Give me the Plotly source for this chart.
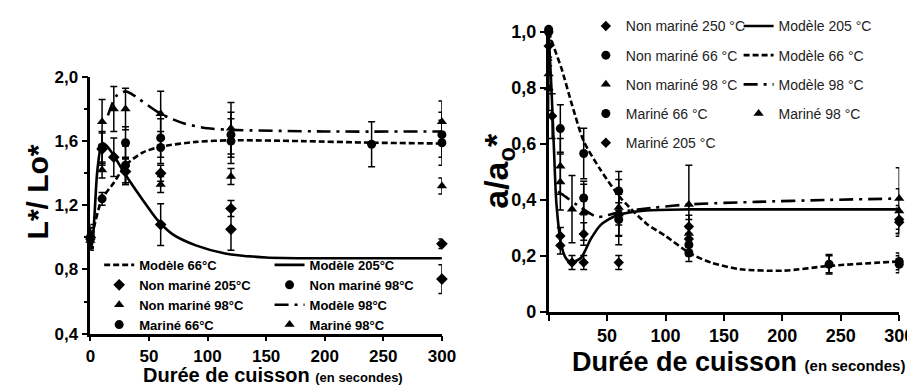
import plotly.graph_objects as go

# ---------------- left panel : L*/Lo* ----------------
x_ticks_l = [0, 50, 100, 150, 200, 250, 300]
x_text_l = ["0", "50", "100", "150", "200", "250", "300"]
y_ticks_l = [0.4, 0.8, 1.2, 1.6, 2.0]
y_text_l = ["0,4", "0,8", "1,2", "1,6", "2,0"]
y_minor_l = [0.6, 1.0, 1.4, 1.8]

mod66_l_t = [0, 3, 10, 20, 30, 45, 60, 90, 120, 180, 240, 300]
mod66_l_v = [0.95, 1.06, 1.24, 1.34, 1.45, 1.53, 1.565, 1.595, 1.605, 1.60, 1.59, 1.585]
mod205_l_t = [0, 2, 6, 10, 14, 20, 30, 45, 57, 70, 90, 115, 150, 200, 300]
mod205_l_v = [0.92, 0.98, 1.42, 1.59, 1.57, 1.51, 1.39, 1.23, 1.11, 1.02, 0.95, 0.90, 0.875, 0.87, 0.87]
mod98_l_t = [15, 22, 30, 36, 60, 80, 100, 120, 200, 300]
mod98_l_v = [1.76, 1.88, 1.91, 1.89, 1.77, 1.71, 1.68, 1.67, 1.66, 1.66]

nm205_l_t = [0, 10, 20, 30, 60, 120, 300]
nm205_l_v = [1.0, 1.55, 1.50, 1.41, 1.08, 1.05, 0.74]
nm205_l_e = [0.06, 0.10, 0.12, 0.08, 0.13, 0.13, 0.09]
m205_l_t = [60, 120, 300]
m205_l_v = [1.40, 1.18, 0.96]
m205_l_e = [0.05, 0.05, 0.03]
nm98c_l_t = [0, 10, 30, 60, 120, 300]
nm98c_l_v = [1.0, 1.56, 1.59, 1.62, 1.64, 1.64]
nm98c_l_e = [0.06, 0.10, 0.10, 0.12, 0.14, 0.14]
nm98t_l_t = [0, 10, 20, 30, 60, 120, 300]
nm98t_l_v = [1.0, 1.72, 1.80, 1.80, 1.77, 1.68, 1.72]
nm98t_l_e = [0.08, 0.14, 0.14, 0.13, 0.14, 0.16, 0.13]
m66_l_t = [0, 10, 30, 60, 120, 240, 300]
m66_l_v = [0.99, 1.24, 1.45, 1.56, 1.60, 1.58, 1.59]
m66_l_e = [0.05, 0.04, 0.12, 0.10, 0.14, 0.14, 0.14]
m98_l_t = [0, 10, 30, 60, 120, 300]
m98_l_v = [0.98, 1.42, 1.42, 1.33, 1.38, 1.32]
m98_l_e = [0.05, 0.05, 0.08, 0.05, 0.05, 0.05]

# ---------------- right panel : a/ao* ----------------
x_ticks_r = [0, 50, 100, 150, 200, 250, 300]
x_text_r = ["", "50", "100", "150", "200", "250", "300"]
y_ticks_r = [0, 0.2, 0.4, 0.6, 0.8, 1.0]
y_text_r = ["0", "0,2", "0,4", "0,6", "0,8", "1,0"]

mod205_r_t = [0, 2.5, 4.7, 6.7, 10.9, 15, 19.3, 27.7, 36, 44.4, 58.4, 83.5, 120, 200, 300]
mod205_r_v = [1.0, 0.79, 0.565, 0.384, 0.237, 0.19, 0.176, 0.193, 0.26, 0.31, 0.345, 0.362, 0.366, 0.366, 0.366]
mod66_r_t = [0, 5, 11, 20, 30, 44, 61, 83.5, 100, 121, 139, 164, 201, 240, 300]
mod66_r_v = [1.0, 0.94, 0.87, 0.74, 0.61, 0.51, 0.41, 0.316, 0.271, 0.209, 0.176, 0.152, 0.147, 0.164, 0.18]
mod98_r_t = [8, 15, 25, 41.6, 50, 61, 90, 120, 178, 240, 300]
mod98_r_v = [0.43, 0.41, 0.38, 0.339, 0.345, 0.357, 0.372, 0.384, 0.393, 0.40, 0.405]

nm250_r_t = [0, 3, 10, 30, 60, 120, 300]
nm250_r_v = [1.0, 0.70, 0.237, 0.176, 0.176, 0.26, 0.32]
nm250_r_e = [0.05, 0.08, 0.03, 0.025, 0.025, 0.04, 0.05]
nm66_r_t = [0, 10, 30, 60, 120, 240, 300]
nm66_r_v = [1.01, 0.655, 0.566, 0.432, 0.21, 0.17, 0.18]
nm66_r_e = [0.04, 0.085, 0.09, 0.07, 0.03, 0.03, 0.03]
nm98_r_t = [0, 10, 20, 30, 60, 120, 300]
nm98_r_v = [0.85, 0.52, 0.367, 0.356, 0.373, 0.384, 0.405]
nm98_r_e = [0.06, 0.10, 0.12, 0.10, 0.10, 0.14, 0.11]
m66_r_t = [0, 30, 60, 120, 300]
m66_r_v = [1.0, 0.407, 0.33, 0.24, 0.17]
m66_r_e = [0.04, 0.06, 0.09, 0.04, 0.03]
m98_r_t = [0, 10, 60, 120, 240, 300]
m98_r_v = [0.80, 0.464, 0.35, 0.28, 0.17, 0.36]
m98_r_e = [0.08, 0.10, 0.08, 0.05, 0.035, 0.08]
m205_r_t = [0, 10, 20, 30, 60, 120, 300]
m205_r_v = [0.95, 0.271, 0.176, 0.278, 0.35, 0.305, 0.33]
m205_r_e = [0.05, 0.03, 0.025, 0.04, 0.04, 0.04, 0.05]

fig = go.Figure()

BOLD = "Liberation Sans"


def model(name, t, v, dash, xa, ya, leg, width=2.6):
    fig.add_trace(go.Scatter(
        x=t, y=v, name=name, mode="lines",
        line=dict(color="black", width=width, dash=dash, shape="spline", smoothing=0.7),
        xaxis=xa, yaxis=ya, legend=leg, legendgroup=leg + name,
        hoverinfo="skip"))


def data(name, t, v, e, symbol, xa, ya, leg, size=9, show=True):
    fig.add_trace(go.Scatter(
        x=t, y=v, name=name, mode="markers",
        marker=dict(symbol=symbol, color="black", size=size),
        error_y=dict(type="data", array=e, color="black", thickness=1.5, width=3.5),
        xaxis=xa, yaxis=ya, legend=leg, legendgroup=leg + name,
        showlegend=show, cliponaxis=False))


# left legend: column 1 -> legend, column 2 -> legend2
model("Modèle 66°C", mod66_l_t, mod66_l_v, "6px,3px", "x", "y", "legend")
model("Modèle 205°C", mod205_l_t, mod205_l_v, "solid", "x", "y", "legend2")
data("Non mariné 205°C", nm205_l_t, nm205_l_v, nm205_l_e, "diamond", "x", "y", "legend")
data("Non mariné 98°C", nm98c_l_t, nm98c_l_v, nm98c_l_e, "circle", "x", "y", "legend2")
data("Non mariné 98°C", nm98t_l_t, nm98t_l_v, nm98t_l_e, "triangle-up", "x", "y", "legend")
model("Modèle 98°C", mod98_l_t, mod98_l_v, "14px,6px,3px,6px", "x", "y", "legend2")
data("Mariné 66°C", m66_l_t, m66_l_v, m66_l_e, "circle", "x", "y", "legend")
data("Mariné 98°C", m98_l_t, m98_l_v, m98_l_e, "triangle-up", "x", "y", "legend2")
data("Mariné 205°C", m205_l_t, m205_l_v, m205_l_e, "diamond", "x", "y", "legend", show=False)

# right legend: column 1 -> legend3, column 2 -> legend4
data("Non mariné 250 °C", nm250_r_t, nm250_r_v, nm250_r_e, "diamond", "x2", "y2", "legend3", size=8)
model("Modèle 205 °C", mod205_r_t, mod205_r_v, "solid", "x2", "y2", "legend4")
data("Non mariné 66 °C", nm66_r_t, nm66_r_v, nm66_r_e, "circle", "x2", "y2", "legend3", size=9)
model("Modèle 66 °C", mod66_r_t, mod66_r_v, "6px,3px", "x2", "y2", "legend4")
data("Non mariné 98 °C", nm98_r_t, nm98_r_v, nm98_r_e, "triangle-up", "x2", "y2", "legend3", size=9)
model("Modèle 98 °C", mod98_r_t, mod98_r_v, "14px,6px,3px,6px", "x2", "y2", "legend4")
data("Mariné 66 °C", m66_r_t, m66_r_v, m66_r_e, "circle", "x2", "y2", "legend3", size=9)
data("Mariné 98 °C", m98_r_t, m98_r_v, m98_r_e, "triangle-up", "x2", "y2", "legend4", size=9)
data("Mariné 205 °C", m205_r_t, m205_r_v, m205_r_e, "diamond", "x2", "y2", "legend3", size=8)

W, H = 915, 387

axis_common = dict(showline=True, linecolor="black", linewidth=2.5, ticks="outside",
                   tickcolor="black", tickwidth=2, ticklen=6, showgrid=False,
                   zeroline=False, tickmode="array")

leg_l = dict(bgcolor="rgba(0,0,0,0)", font=dict(family=BOLD, size=13, color="black", weight="bold"),
             traceorder="grouped", tracegroupgap=0, xanchor="left", yanchor="top")
leg_r = dict(bgcolor="rgba(0,0,0,0)", font=dict(family=BOLD, size=14, color="#222"),
             traceorder="grouped", tracegroupgap=8, xanchor="left", yanchor="top")

fig.update_layout(
    width=W, height=H,
    margin=dict(l=0, r=0, t=0, b=0),
    paper_bgcolor="white", plot_bgcolor="white",
    font=dict(family=BOLD, color="black"),
    xaxis=dict(axis_common, domain=[79 / W, 438 / W], range=[0, 300], ticklen=5,
               tickvals=x_ticks_l, ticktext=x_text_l,
               tickfont=dict(size=17, weight="bold")),
    yaxis=dict(axis_common, domain=[1 - 333 / H, 1 - 63 / H], range=[0.4, 2.0],
               tickvals=y_ticks_l, ticktext=y_text_l,
               tickfont=dict(size=17, weight="bold"),
               minor=dict(tickvals=y_minor_l, ticks="outside", ticklen=4,
                          tickcolor="black", tickwidth=2)),
    xaxis2=dict(axis_common, domain=[547 / W, 905 / W], range=[0, 300], anchor="y2",
                tickvals=x_ticks_r, ticktext=x_text_r,
                tickfont=dict(size=18, weight="bold")),
    yaxis2=dict(axis_common, domain=[1 - 310 / H, 1 - 10 / H], range=[0, 1.02], anchor="x2",
                tickvals=y_ticks_r, ticktext=y_text_r,
                tickfont=dict(size=18, weight="bold")),
    legend=dict(leg_l, x=88 / W, y=1 - 245 / H),
    legend2=dict(leg_l, x=262 / W, y=1 - 245 / H),
    legend3=dict(leg_r, x=585 / W, y=1 + 7 / H),
    legend4=dict(leg_r, x=741 / W, y=1 + 7 / H),
    annotations=[
        dict(text="L*/ Lo*", x=25 / W, y=1 - 184 / H, xref="paper", yref="paper",
             xanchor="center", yanchor="middle",
             textangle=-90, showarrow=False, font=dict(size=30, weight="bold")),
        dict(text="a/a<sub>o</sub>*", x=495 / W, y=1 - 162 / H, xref="paper",
             yref="paper", xanchor="center", yanchor="middle",
             textangle=-90, showarrow=False,
             font=dict(size=34, weight="bold")),
        dict(text="Durée de cuisson <span style='font-size:13px'>(en secondes)</span>",
             x=266 / W, y=1 - 376 / H, xref="paper", yref="paper", showarrow=False,
             xanchor="center", yanchor="middle",
             font=dict(size=20, weight="bold")),
        dict(text="Durée de cuisson <span style='font-size:15px'>(en secondes)</span>",
             x=741 / W, y=1 - 363 / H, xref="paper", yref="paper", showarrow=False,
             xanchor="center", yanchor="middle",
             font=dict(size=27, weight="bold")),
    ],
)

fig.write_html("out.html")
